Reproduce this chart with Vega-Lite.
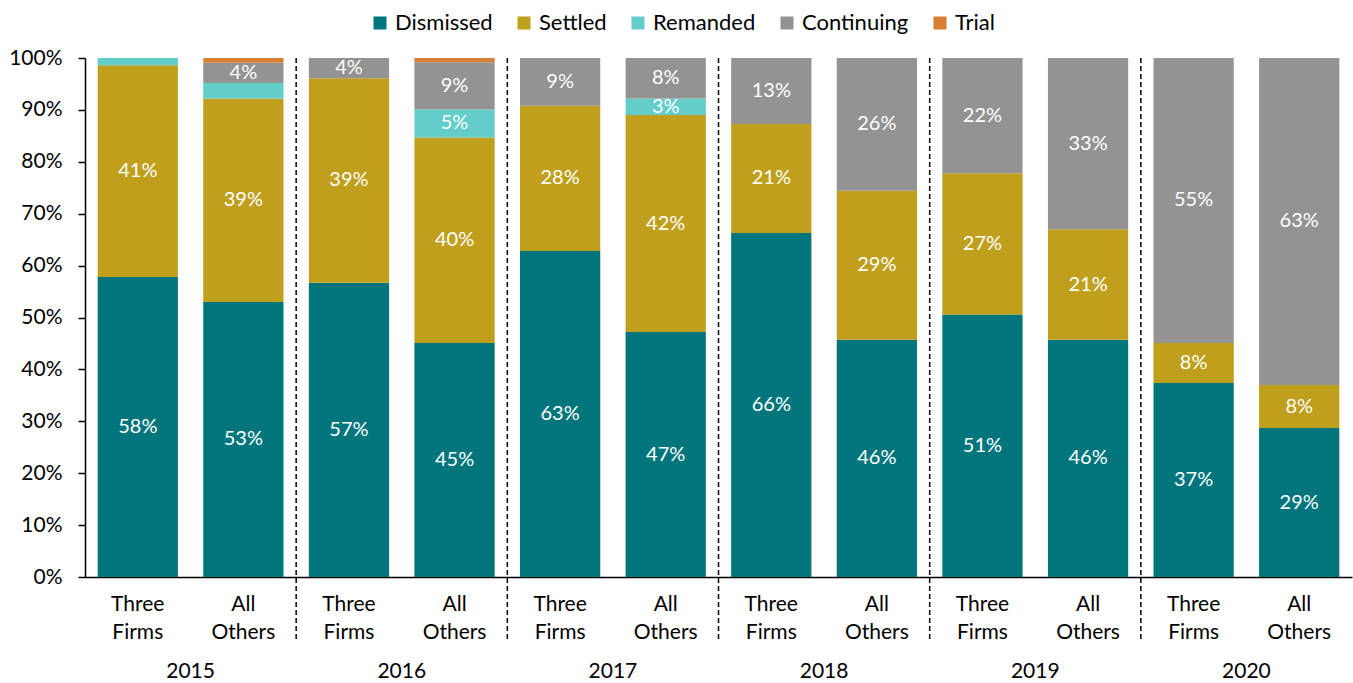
{
  "$schema": "https://vega.github.io/schema/vega-lite/v6.json",
  "width": 1267,
  "height": 519,
  "autosize": {"type": "none"},
  "padding": {"left": 85, "top": 58, "right": 1, "bottom": 106},
  "background": "#ffffff",
  "config": {
    "view": {"stroke": null},
    "font": "Lato",
    "text": {"font": "Lato"}
  },
  "data": {
    "values": [
      {"bar": "2015 Three Firms", "year": "2015", "firm": "Three Firms", "status": "Dismissed", "value": 0.578},
      {"bar": "2015 Three Firms", "year": "2015", "firm": "Three Firms", "status": "Settled", "value": 0.408},
      {"bar": "2015 Three Firms", "year": "2015", "firm": "Three Firms", "status": "Remanded", "value": 0.014},
      {"bar": "2015 All Others", "year": "2015", "firm": "All Others", "status": "Dismissed", "value": 0.530},
      {"bar": "2015 All Others", "year": "2015", "firm": "All Others", "status": "Settled", "value": 0.392},
      {"bar": "2015 All Others", "year": "2015", "firm": "All Others", "status": "Remanded", "value": 0.030},
      {"bar": "2015 All Others", "year": "2015", "firm": "All Others", "status": "Continuing", "value": 0.039},
      {"bar": "2015 All Others", "year": "2015", "firm": "All Others", "status": "Trial", "value": 0.009},
      {"bar": "2016 Three Firms", "year": "2016", "firm": "Three Firms", "status": "Dismissed", "value": 0.567},
      {"bar": "2016 Three Firms", "year": "2016", "firm": "Three Firms", "status": "Settled", "value": 0.394},
      {"bar": "2016 Three Firms", "year": "2016", "firm": "Three Firms", "status": "Continuing", "value": 0.039},
      {"bar": "2016 All Others", "year": "2016", "firm": "All Others", "status": "Dismissed", "value": 0.451},
      {"bar": "2016 All Others", "year": "2016", "firm": "All Others", "status": "Settled", "value": 0.396},
      {"bar": "2016 All Others", "year": "2016", "firm": "All Others", "status": "Remanded", "value": 0.054},
      {"bar": "2016 All Others", "year": "2016", "firm": "All Others", "status": "Continuing", "value": 0.091},
      {"bar": "2016 All Others", "year": "2016", "firm": "All Others", "status": "Trial", "value": 0.008},
      {"bar": "2017 Three Firms", "year": "2017", "firm": "Three Firms", "status": "Dismissed", "value": 0.628},
      {"bar": "2017 Three Firms", "year": "2017", "firm": "Three Firms", "status": "Settled", "value": 0.280},
      {"bar": "2017 Three Firms", "year": "2017", "firm": "Three Firms", "status": "Continuing", "value": 0.092},
      {"bar": "2017 All Others", "year": "2017", "firm": "All Others", "status": "Dismissed", "value": 0.472},
      {"bar": "2017 All Others", "year": "2017", "firm": "All Others", "status": "Settled", "value": 0.418},
      {"bar": "2017 All Others", "year": "2017", "firm": "All Others", "status": "Remanded", "value": 0.032},
      {"bar": "2017 All Others", "year": "2017", "firm": "All Others", "status": "Continuing", "value": 0.078},
      {"bar": "2018 Three Firms", "year": "2018", "firm": "Three Firms", "status": "Dismissed", "value": 0.663},
      {"bar": "2018 Three Firms", "year": "2018", "firm": "Three Firms", "status": "Settled", "value": 0.210},
      {"bar": "2018 Three Firms", "year": "2018", "firm": "Three Firms", "status": "Continuing", "value": 0.127},
      {"bar": "2018 All Others", "year": "2018", "firm": "All Others", "status": "Dismissed", "value": 0.457},
      {"bar": "2018 All Others", "year": "2018", "firm": "All Others", "status": "Settled", "value": 0.287},
      {"bar": "2018 All Others", "year": "2018", "firm": "All Others", "status": "Continuing", "value": 0.256},
      {"bar": "2019 Three Firms", "year": "2019", "firm": "Three Firms", "status": "Dismissed", "value": 0.506},
      {"bar": "2019 Three Firms", "year": "2019", "firm": "Three Firms", "status": "Settled", "value": 0.272},
      {"bar": "2019 Three Firms", "year": "2019", "firm": "Three Firms", "status": "Continuing", "value": 0.222},
      {"bar": "2019 All Others", "year": "2019", "firm": "All Others", "status": "Dismissed", "value": 0.457},
      {"bar": "2019 All Others", "year": "2019", "firm": "All Others", "status": "Settled", "value": 0.213},
      {"bar": "2019 All Others", "year": "2019", "firm": "All Others", "status": "Continuing", "value": 0.330},
      {"bar": "2020 Three Firms", "year": "2020", "firm": "Three Firms", "status": "Dismissed", "value": 0.374},
      {"bar": "2020 Three Firms", "year": "2020", "firm": "Three Firms", "status": "Settled", "value": 0.077},
      {"bar": "2020 Three Firms", "year": "2020", "firm": "Three Firms", "status": "Continuing", "value": 0.549},
      {"bar": "2020 All Others", "year": "2020", "firm": "All Others", "status": "Dismissed", "value": 0.287},
      {"bar": "2020 All Others", "year": "2020", "firm": "All Others", "status": "Settled", "value": 0.083},
      {"bar": "2020 All Others", "year": "2020", "firm": "All Others", "status": "Continuing", "value": 0.630}
    ]
  },
  "transform": [
    {"calculate": "indexof(['Dismissed','Settled','Remanded','Continuing','Trial'], datum.status)", "as": "ord"},
    {"stack": "value", "groupby": ["bar"], "sort": [{"field": "ord", "order": "ascending"}], "as": ["y0", "y1"]},
    {"calculate": "(datum.y0 + datum.y1) / 2", "as": "ymid"}
  ],
  "encoding": {
    "x": {
      "field": "bar",
      "type": "nominal",
      "sort": null,
      "scale": {"paddingInner": 0, "paddingOuter": 0},
      "axis": {
        "title": null,
        "labelExpr": "indexof(datum.label, 'Three') >= 0 ? ['Three', 'Firms'] : ['All', 'Others']",
        "labelAngle": 0,
        "labelFontSize": 21,
        "labelLineHeight": 28,
        "labelPadding": 16,
        "labelColor": "#000000",
        "labelFont": "Lato",
        "ticks": false,
        "domainColor": "#000000",
        "domainWidth": 1.5
      }
    }
  },
  "layer": [
    {
      "mark": {"type": "bar", "width": {"band": 0.76}},
      "encoding": {
        "y": {
          "field": "y1",
          "type": "quantitative",
          "scale": {"domain": [0, 1], "nice": false},
          "axis": {
            "title": null,
            "format": ".0%",
            "values": [0, 0.1, 0.2, 0.3, 0.4, 0.5, 0.6, 0.7, 0.8, 0.9, 1],
            "grid": false,
            "labelFontSize": 21,
            "labelColor": "#000000",
            "labelFont": "Lato",
            "labelPadding": 16,
            "tickSize": 7,
            "tickColor": "#000000",
            "tickWidth": 1.5,
            "domainColor": "#000000",
            "domainWidth": 1.5
          }
        },
        "y2": {"field": "y0"},
        "color": {
          "field": "status",
          "type": "nominal",
          "scale": {
            "domain": ["Dismissed", "Settled", "Remanded", "Continuing", "Trial"],
            "range": ["#00767C", "#C09F1D", "#63CDCA", "#939393", "#D67F35"]
          },
          "legend": {
            "title": null,
            "orient": "none",
            "legendX": 284,
            "legendY": -46,
            "direction": "horizontal",
            "symbolType": "square",
            "symbolSize": 169,
            "symbolStrokeWidth": 0,
            "labelFontSize": 22,
            "labelFont": "Lato",
            "labelColor": "#000000",
            "labelOffset": 4,
            "columnPadding": 20,
            "padding": 0
          }
        }
      }
    },
    {
      "transform": [{"filter": "datum.value >= 0.031"}],
      "mark": {"type": "text", "color": "#ffffff", "fontSize": 20, "font": "Lato", "baseline": "middle", "align": "center"},
      "encoding": {
        "y": {"field": "ymid", "type": "quantitative"},
        "text": {"field": "value", "type": "quantitative", "format": ".0%"}
      }
    },
    {
      "transform": [{"filter": "datum.firm == 'All Others' && datum.year != '2020' && datum.status == 'Dismissed'"}],
      "mark": {"type": "rule", "color": "#000000", "strokeWidth": 1.5, "strokeDash": [5, 3]},
      "encoding": {
        "x": {"field": "bar", "type": "nominal", "sort": null, "bandPosition": 1},
        "y": {"datum": 1},
        "y2": {"datum": -0.123}
      }
    },
    {
      "transform": [{"filter": "datum.firm == 'Three Firms' && datum.status == 'Dismissed'"}],
      "mark": {"type": "text", "color": "#000000", "fontSize": 21, "font": "Lato", "baseline": "middle", "align": "center"},
      "encoding": {
        "x": {"field": "bar", "type": "nominal", "sort": null, "bandPosition": 1},
        "y": {"datum": -0.184},
        "text": {"field": "year"}
      }
    }
  ]
}
